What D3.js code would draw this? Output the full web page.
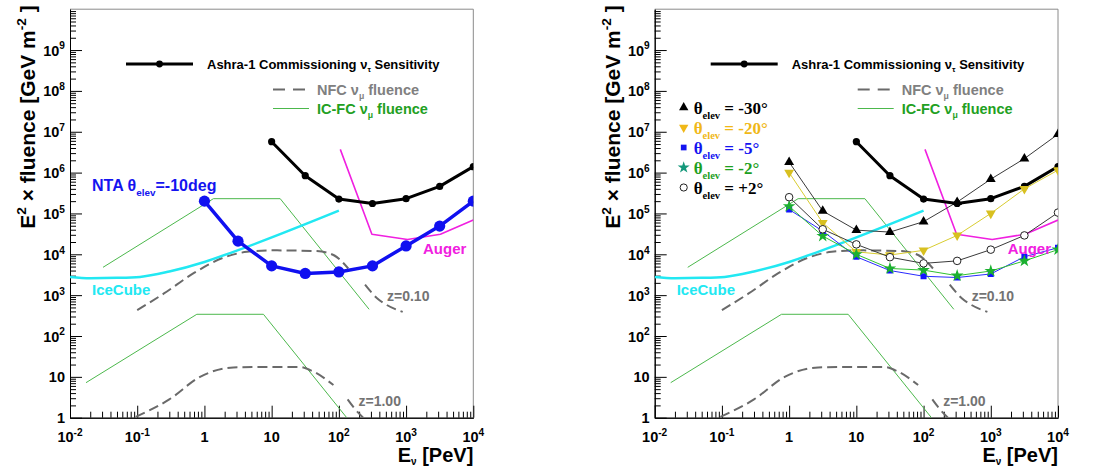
<!DOCTYPE html>
<html>
<head>
<meta charset="utf-8">
<script src="https://cdn.jsdelivr.net/npm/d3@7"></script>
<style>
  body { margin: 0; background: #fff; }
  svg { display: block; font-family: "Liberation Sans", Arial, sans-serif; font-weight: bold; }
</style>
</head>
<body>
<svg id="chart" width="1096" height="470"></svg>
<script>
// ---- data (E in PeV, E^2 x fluence in GeV m^-2) ----
const xTickVals = [1e-2, 1e-1, 1, 10, 1e2, 1e3, 1e4];
const xTickLabels = [["10", "-2"], ["10", "-1"], ["1", ""], ["10", ""], ["10", "2"], ["10", "3"], ["10", "4"]];
const yTickVals = [1, 10, 1e2, 1e3, 1e4, 1e5, 1e6, 1e7, 1e8, 1e9];
const yTickLabels = [["1", ""], ["10", ""], ["10", "2"], ["10", "3"], ["10", "4"], ["10", "5"], ["10", "6"], ["10", "7"], ["10", "8"], ["10", "9"]];

const ashraE = [10, 31.6, 100, 316, 1000, 3162, 10000];
const ashraF = [5.7e6, 8.4e5, 2.25e5, 1.75e5, 2.3e5, 4.6e5, 1.4e6];

const ntaE = [1, 3.16, 10, 31.6, 100, 316, 1000, 3162, 10000];
const ntaF = [2e5, 2.1e4, 5.2e3, 3.4e3, 3.7e3, 5.2e3, 1.6e4, 4.9e4, 2e5];

const iceCubeE = [0.01, 0.02, 0.05, 0.11, 0.3, 1, 2.7, 100];
const iceCubeF = [2.8e3, 2.6e3, 2.65e3, 2.8e3, 3.8e3, 6.5e3, 1.15e4, 1.17e5];

const augerE = [105, 310, 1050, 3240, 10000];
const augerF = [3.7e6, 3.1e4, 2.3e4, 3.1e4, 6.9e4];

const icfcHighE = [0.031, 1.36, 13.4, 282];
const icfcHighF = [4.8e3, 2.3e5, 2.3e5, 450];
const icfcLowE = [0.0173, 0.77, 7.55, 131];
const icfcLowF = [7.2, 340, 340, 1];

const nfc010aE = [0.1, 0.25, 0.7, 2, 4.3, 10, 47, 83, 138];
const nfc010aF = [430, 1.1e3, 3.5e3, 8.5e3, 1.15e4, 1.25e4, 1.2e4, 9.6e3, 4.5e3];
const nfc010bE = [245, 370, 516, 890];
const nfc010bF = [1.8e3, 840, 575, 390];
const nfc100aE = [0.095, 0.3, 0.86, 2.7, 10, 26, 42, 83];
const nfc100aF = [1.05, 2.8, 10, 17, 17.5, 17.5, 13.4, 6.3];
const nfc100bE = [135, 170, 230];
const nfc100bF = [2.8, 1.7, 1];

// right panel: Ashra sensitivity per elevation angle
const thetaE = [1, 3.16, 10, 31.6, 100, 316, 1000, 3162, 10000];
const th30F = [1.8e6, 1.15e5, 3.9e4, 3.5e4, 6.3e4, 1.9e5, 6.9e5, 2.2e6, 8.7e6];
const th20F = [1e6, 5.9e4, 1.15e4, 9.6e3, 1.25e4, 2.9e4, 1.0e5, 4.0e5, 1.15e6];
const th5F  = [1.25e5, 3.7e4, 8.7e3, 4e3, 2.9e3, 2.7e3, 3.3e3, 8.7e3, 1.45e4];
const th2mF = [1.5e5, 2.8e4, 1e4, 4.5e3, 4.1e3, 3e3, 3.9e3, 6.9e3, 1.3e4];
const th2pF = [2.5e5, 4.1e4, 1.75e4, 8.5e3, 6e3, 6.9e3, 1.3e4, 2.9e4, 1.05e5];

const thetaLabels = ["-30°", "-20°", "-5°", "-2°", "+2°"];

// ---- drawing ----
const svg = d3.select("#chart");
const W = 403.3, TOP = 9.2, BOTTOM = 417.7;

// text with super/subscripts; parts = [[text, "sup"|"sub"|null, sizeFactor, shiftFactor]]
function rich(t, parts, fs) {
  let shift = 0;
  parts.forEach(([s, k, f, sh]) => {
    const target = k === "sup" ? -(sh || 0.42) * fs : k === "sub" ? (sh || 0.3) * fs : 0;
    t.append("tspan")
      .attr("dy", target - shift)
      .attr("font-size", k ? fs * (f || 0.65) : fs)
      .text(s);
    shift = target;
  });
  return t;
}

function panel(x0, right) {
  const g = svg.append("g");
  const x = d3.scaleLog().domain([1e-2, 1e4]).range([x0, x0 + W]);
  const y = d3.scaleLog().domain([1, 1e10]).range([BOTTOM, TOP]);
  const clipId = "clip" + (right ? 1 : 0);
  svg.append("clipPath").attr("id", clipId)
    .append("rect").attr("x", x0).attr("y", TOP).attr("width", W).attr("height", BOTTOM - TOP);

  // frame (top/right)
  g.append("path")
    .attr("d", `M${x0},${TOP}H${x0 + W}V${BOTTOM}`)
    .attr("fill", "none").attr("stroke", "#8a8a8a").attr("stroke-width", 1);

  // minor tick positions 2..9 per decade
  const minorX = [], minorY = [];
  for (let p = -2; p < 4; p++) for (let m = 2; m <= 9; m++) minorX.push(m * Math.pow(10, p));
  for (let p = 0; p < 10; p++) for (let m = 2; m <= 9; m++) minorY.push(m * Math.pow(10, p));

  const xa = g.append("g").attr("transform", `translate(0,${BOTTOM})`);
  xa.call(d3.axisBottom(x).tickValues(minorX).tickSize(-6).tickSizeOuter(0).tickFormat(""));
  xa.append("g").call(d3.axisBottom(x).tickValues(xTickVals).tickSize(-12).tickSizeOuter(0).tickFormat(""));
  const ya = g.append("g").attr("transform", `translate(${x0},0)`);
  ya.call(d3.axisLeft(y).tickValues(minorY).tickSize(-6).tickSizeOuter(0).tickFormat(""));
  ya.append("g").call(d3.axisLeft(y).tickValues(yTickVals).tickSize(-12).tickSizeOuter(0).tickFormat(""));
  g.selectAll(".domain, .tick line").attr("stroke", "#000").attr("stroke-width", 1);

  // tick labels
  xTickVals.forEach((v, i) => {
    const t = g.append("text").attr("x", x(v)).attr("y", BOTTOM + 24)
      .attr("text-anchor", "middle").attr("fill", "#000");
    rich(t, [[xTickLabels[i][0], null], [xTickLabels[i][1], "sup", 0.7]], 14.5);
  });
  yTickVals.forEach((v, i) => {
    const t = g.append("text").attr("x", x0 - 5).attr("y", y(v) + 5.5)
      .attr("text-anchor", "end").attr("fill", "#000");
    rich(t, [[yTickLabels[i][0], null], [yTickLabels[i][1], "sup", 0.7]], 14.5);
  });

  // axis titles
  const yt = g.append("text").attr("transform", `translate(${x0 - 35},117) rotate(-90)`)
    .attr("text-anchor", "middle").attr("fill", "#000");
  rich(yt, [["E", null], ["2", "sup", 0.65], [" × fluence [GeV m", null], ["-2", "sup", 0.65], [" ]", null]], 21);
  const xt = g.append("text").attr("x", x0 + W).attr("y", 462)
    .attr("text-anchor", "end").attr("fill", "#000");
  rich(xt, [["E", null], ["ν", "sub", 0.5, 0.15], [" [PeV]", null]], 20);

  // data lines
  const plot = g.append("g").attr("clip-path", `url(#${clipId})`);
  const line = d3.line().x(d => x(d[0])).y(d => y(d[1]));
  const smooth = d3.line().x(d => x(d[0])).y(d => y(d[1])).curve(d3.curveMonotoneX);
  const draw = (gen, E, F, color, w, dash) =>
    plot.append("path").datum(d3.zip(E, F)).attr("d", gen)
      .attr("fill", "none").attr("stroke", color).attr("stroke-width", w)
      .attr("stroke-dasharray", dash || null).attr("stroke-linejoin", "round");

  draw(line, icfcHighE, icfcHighF, "#4cb84c", 1);
  draw(line, icfcLowE, icfcLowF, "#4cb84c", 1);
  draw(smooth, nfc010aE, nfc010aF, "#6a6a6a", 2, "10,5");
  draw(smooth, nfc010bE, nfc010bF, "#6a6a6a", 2, "10,5");
  draw(smooth, nfc100aE, nfc100aF, "#6a6a6a", 2, "10,5");
  draw(smooth, nfc100bE, nfc100bF, "#6a6a6a", 2, "10,5");
  draw(smooth, iceCubeE, iceCubeF, "#22e8f2", 2.5);
  draw(line, augerE, augerF, "#f020e0", 1.6);
  draw(line, ashraE, ashraF, "#000", 3);
  plot.selectAll(null).data(d3.zip(ashraE, ashraF)).join("circle")
    .attr("cx", d => x(d[0])).attr("cy", d => y(d[1])).attr("r", 3.6).attr("fill", "#000");

  if (!right) {
    draw(line, ntaE, ntaF, "#1010f0", 3.5);
    plot.selectAll(null).data(d3.zip(ntaE, ntaF)).join("circle")
      .attr("cx", d => x(d[0])).attr("cy", d => y(d[1])).attr("r", 5.6).attr("fill", "#1010f0");
    const nt = g.append("text").attr("x", x0 + 22).attr("y", 191).attr("fill", "#1414f0");
    rich(nt, [["NTA θ", null], ["elev", "sub", 0.62], ["=-10deg", null]], 16);
  } else {
    const series = [
      { F: th30F, line: "#3a3a3a", fill: "#000", stroke: "none", sym: d3.symbolTriangle, rot: 0, size: 42 },
      { F: th20F, line: "#d8cc30", fill: "#d8c020", stroke: "none", sym: d3.symbolTriangle, rot: 180, size: 42 },
      { F: th5F, line: "#2a2aff", fill: "#1414ff", stroke: "none", sym: d3.symbolSquare, rot: 0, size: 36 },
      { F: th2mF, line: "#30c030", fill: "#1cb030", stroke: "none", sym: d3.symbolStar, rot: 0, size: 50 },
      { F: th2pF, line: "#3a3a3a", fill: "#fff", stroke: "#222", sym: d3.symbolCircle, rot: 0, size: 45 }
    ];
    series.forEach(s => draw(line, thetaE, s.F, s.line, 1));
    series.forEach(s => {
      plot.selectAll(null).data(d3.zip(thetaE, s.F)).join("path")
        .attr("d", d3.symbol().type(s.sym).size(s.size))
        .attr("transform", d => `translate(${x(d[0])},${y(d[1])}) rotate(${s.rot})`)
        .attr("fill", s.fill).attr("stroke", s.stroke).attr("stroke-width", 1);
    });
    // angle legend
    const legCol = ["#000", "#f0b818", "#1414f0", "#1ea01e", "#000"];
    const legMark = ["#000", "#f0b818", "#1414f0", "#14987a", "#222"];
    series.forEach((s, i) => {
      const ly = 107.5 + i * 20;
      g.append("path").attr("d", d3.symbol().type(s.sym).size(s.size * 0.9))
        .attr("transform", `translate(${x0 + 29},${ly}) rotate(${s.rot})`)
        .attr("fill", i === 4 ? "#fff" : legMark[i]).attr("stroke", i === 4 ? "#222" : "none");
      const t = g.append("text").attr("x", x0 + 39).attr("y", ly + 6)
        .attr("fill", legCol[i]).attr("font-family", "'Liberation Serif', 'Times New Roman', serif");
      rich(t, [["θ", null], ["elev", "sub", 0.62], [" = " + thetaLabels[i], null]], 17);
    });
  }

  // curve labels
  g.append("text").attr("x", x0 + 22).attr("y", 294.5).attr("fill", "#22e8f2").attr("font-size", 15).text("IceCube");
  g.append("text").attr("x", x0 + 353).attr("y", 253.5).attr("fill", "#f020e0").attr("font-size", 15).text("Auger");
  g.append("text").attr("x", x0 + 317).attr("y", 301).attr("fill", "#737373").attr("font-size", 14).text("z=0.10");
  g.append("text").attr("x", x0 + 288.5).attr("y", 406).attr("fill", "#737373").attr("font-size", 14).text("z=1.00");

  // main legend
  g.append("line").attr("x1", x0 + 56).attr("x2", x0 + 123).attr("y1", 64).attr("y2", 64)
    .attr("stroke", "#000").attr("stroke-width", 3);
  g.append("circle").attr("cx", x0 + 89.5).attr("cy", 64).attr("r", 3.4).attr("fill", "#000");
  rich(g.append("text").attr("x", x0 + 137).attr("y", 68.5).attr("fill", "#000"),
    [["Ashra-1 Commissioning ν", null], ["τ", "sub", 0.6], [" Sensitivity", null]], 13);
  g.append("line").attr("x1", x0 + 203).attr("x2", x0 + 236).attr("y1", 89.5).attr("y2", 89.5)
    .attr("stroke", "#6a6a6a").attr("stroke-width", 2).attr("stroke-dasharray", "12,8");
  rich(g.append("text").attr("x", x0 + 247).attr("y", 94.5).attr("fill", "#808080"),
    [["NFC ν", null], ["μ", "sub", 0.6], [" fluence", null]], 14.5);
  g.append("line").attr("x1", x0 + 203).attr("x2", x0 + 239).attr("y1", 108.5).attr("y2", 108.5)
    .attr("stroke", "#4cb84c").attr("stroke-width", 1);
  rich(g.append("text").attr("x", x0 + 247).attr("y", 113.5).attr("fill", "#22a022"),
    [["IC-FC ν", null], ["μ", "sub", 0.6], [" fluence", null]], 14.5);
}

panel(70, false);
panel(654.7, true);
</script>
</body>
</html>
